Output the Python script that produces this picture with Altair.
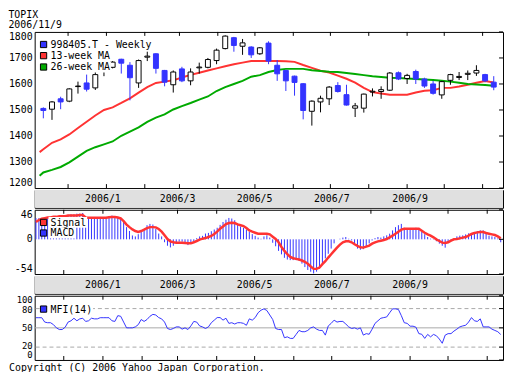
import altair as alt
import pandas as pd

FONT = "DejaVu Sans Mono"
BLUE = "#3333ff"
RED = "#ff3333"
GREEN = "#00aa00"
GRID = "#a8a8a8"
BAND = "#e0e0e0"

W = 474
H_MAIN = 158
H_BAND = 18
H_SUB = 65

title_lines = ["TOPIX", "2006/11/9"]
copyright_text = "Copyright (C) 2006 Yahoo Japan Corporation."
main_legend = ["998405.T - Weekly", "13-week MA", "26-week MA"]
macd_legend = ["Signal", "MACD"]
mfi_legend = ["MFI(14)"]

week_start = "2005-11-11"
ma_start = "2005-11-08T00:00:00"
ind_start = "2005-11-09"

candle_open = [1506, 1503, 1543, 1534, 1590, 1604, 1585, 1650, 1664, 1695,
               1672, 1604, 1703, 1716, 1652, 1597, 1658, 1612, 1662, 1664,
               1690, 1736, 1778, 1745, 1742, 1716, 1757, 1672, 1652, 1630,
               1601, 1495, 1531, 1543, 1594, 1559, 1507, 1507, 1569, 1571,
               1576, 1643, 1621, 1648, 1619, 1600, 1558, 1614, 1625, 1637,
               1642, 1636, 1607]
candle_close = [1498, 1531, 1531, 1581, 1592, 1580, 1636, 1653, 1684, 1680,
                1624, 1690, 1707, 1660, 1607, 1646, 1612, 1646, 1665, 1694,
                1730, 1784, 1748, 1758, 1712, 1739, 1688, 1639, 1612, 1606,
                1498, 1534, 1545, 1588, 1571, 1519, 1516, 1561, 1572, 1578,
                1642, 1619, 1633, 1619, 1592, 1564, 1609, 1636, 1629, 1641,
                1652, 1612, 1588]
candle_high = [1510, 1534, 1551, 1583, 1609, 1636, 1646, 1664, 1688, 1697,
               1684, 1694, 1724, 1718, 1654, 1652, 1666, 1660, 1682, 1700,
               1736, 1787, 1781, 1773, 1745, 1742, 1764, 1692, 1655, 1632,
               1603, 1537, 1555, 1592, 1607, 1597, 1527, 1563, 1583, 1591,
               1646, 1648, 1639, 1655, 1624, 1612, 1612, 1639, 1646, 1652,
               1672, 1639, 1630]
candle_low = [1468, 1462, 1503, 1530, 1563, 1571, 1577, 1630, 1660, 1640,
              1537, 1585, 1688, 1640, 1591, 1567, 1607, 1595, 1640, 1660,
              1676, 1733, 1724, 1712, 1700, 1712, 1676, 1612, 1573, 1555,
              1464, 1440, 1491, 1519, 1567, 1517, 1473, 1490, 1552, 1543,
              1573, 1615, 1600, 1600, 1585, 1559, 1543, 1597, 1615, 1615,
              1631, 1607, 1576]

ma13 = [1338, 1349, 1374, 1387, 1406, 1431, 1455, 1479, 1500, 1510,
        1527, 1545, 1567, 1588, 1604, 1609, 1614, 1625, 1635, 1643,
        1652, 1660, 1668, 1676, 1682, 1688, 1688, 1688, 1688, 1687,
        1685, 1673, 1662, 1651, 1644, 1632, 1620, 1605, 1585, 1569,
        1563, 1559, 1559, 1559, 1567, 1574, 1576, 1585, 1585, 1590,
        1597, 1605, 1611, 1606]
ma26 = [1247, 1260, 1270, 1281, 1299, 1321, 1343, 1357, 1368, 1379,
        1401, 1417, 1433, 1454, 1471, 1483, 1502, 1515, 1527, 1540,
        1552, 1573, 1588, 1600, 1612, 1628, 1634, 1646, 1654, 1658,
        1658, 1658, 1653, 1650, 1647, 1646, 1642, 1638, 1634, 1630,
        1627, 1624, 1623, 1621, 1619, 1617, 1615, 1612, 1609, 1605,
        1600, 1598, 1596, 1593]

macd_hist = [33, 33, 33, 33, 33, 33, 33, 33, 33, 33,
             33, 38, 39, 39, 40, 40, 41, 33, 33, 33,
             33, 33, 33, 33, 34, 36, 37, 36, 35, 33,
             27, 19, 13, 6, 4.5, 8, 12, 16, 22, 24,
             23, 16, 9, 4.5, -4.5, -10, -12.6, -10, -5.4, -3.6,
             -3.6, -5.4, -9, -6.3, -2.7, 1.8, 4.5, 5.4, 9, 10,
             12.6, 15.3, 18, 22.5, 27, 30.6, 33.3, 32.4, 29.7, 24.3,
             19.8, 18, 15.3, 11.7, 8.1, 5.4, 2.7, 0.9, 4.5, 6.3,
             2.7, -5.4, -10.8, -18, -23.4, -28.8, -31.5, -32.4, -32.4, -32.4,
             -33.3, -37.8, -43.2, -47.7, -50.4, -53.1, -50.4, -45.9, -37.8, -29.7,
             -22.5, -14.4, -6.3, 0, 0.9, 2.7, 3.6, 0.9, -1.8, -8.1,
             -14.4, -16.2, -15.3, -11.7, -6.3, -1.8, 1.8, 3.6, 2.7, 4.6,
             6.2, 8.8, 13.9, 19, 22, 24, 18, 16, 16, 16,
             18, 16, 12, 8, 3.6, 1, -0.5, -3, -6.7, -10,
             -13, -5.7, -2.6, 0.5, 4.6, 5.7, 6.2, 7.7, 9.3, 9.8,
             11.4, 12.9, 14, 14, 8.8, 5.7, 4.6, 3.6, 1.5, -4.6]
macd_signal = [27, 30, 32, 33, 34, 34, 35, 35, 36, 36,
               36, 37, 37, 37, 37, 38, 38, 34, 33.5, 33.5,
               33.5, 33.5, 33.5, 33.5, 33.5, 34.5, 34.6, 34.6, 34, 32.5,
               28.4, 23, 19, 15.5, 12.9, 11.4, 12.9, 15, 17.5, 19,
               19, 18.6, 16, 11.9, 6.2, 0.5, -3.1, -4.6, -5.2, -5.2,
               -5.2, -5.7, -6.2, -6.2, -4.6, -2.6, -0.5, 1, 2, 3.6,
               5.2, 8.3, 11.9, 16.5, 20, 23.7, 25.3, 25.8, 25.3, 23.2,
               22, 20.6, 17.5, 13.9, 11.9, 10.3, 8.8, 8.8, 8.8, 8.8,
               7.7, 4.1, 0.5, -4.6, -11.9, -18, -23.2, -27.3, -29.4, -30.4,
               -31.5, -33, -35, -38, -42.3, -46, -46, -43.9, -38.7, -34,
               -28.4, -23.2, -18, -12.9, -8.3, -4.6, -3.1, -3.1, -4.6, -7.7,
               -10.3, -12.4, -12.9, -11.4, -9.8, -6.7, -4.6, -3.1, -2.1, -1,
               0.5, 3.1, 5.7, 8.8, 11.9, 15, 16.5, 16.5, 16.5, 16.5,
               16.5, 16.5, 13.4, 10.3, 7.7, 5.7, 3.1, 0, -2.6, -5.2,
               -5.7, -4.6, -2.1, 0, 0.5, 1.5, 2.6, 3.6, 5.7, 8.3,
               9.8, 10.8, 11.4, 11.4, 9.8, 8.8, 7.7, 6.7, 4.6, 1.5]
mfi = [65.8, 65.8, 65.8, 59, 58, 58, 55, 50, 47.4, 47.4,
       51, 59, 61, 65, 61, 64, 65, 60, 61, 65,
       64, 64, 65.8, 65.8, 65.8, 65.8, 61, 60, 69, 68,
       59, 50, 50, 50, 51.5, 55, 63, 60, 63, 68,
       71, 70, 66, 64, 59, 49, 47.4, 49, 51.5, 51.5,
       48, 50, 47.4, 53, 60, 59, 53, 51.5, 49, 51.5,
       58, 62, 66, 66, 62, 65, 57, 58, 56, 58,
       58, 57, 54, 64, 62, 66, 73.5, 77.5, 79.6, 77,
       70, 63, 49, 47.4, 47.4, 34.6, 36, 33.6, 33.6, 39.8,
       46, 44, 44, 46, 50, 51.5, 48, 46, 46, 38.7,
       53, 57, 62, 59, 60, 60, 56, 51.5, 49, 50,
       48, 50, 38.7, 41, 40, 48, 57, 61, 65, 66,
       67, 73.5, 79.6, 79.6, 78.6, 69, 58, 57, 52.6, 52.6,
       51, 41, 40, 33.6, 39.8, 36, 39.8, 37.7, 32.6, 26,
       38.7, 41, 41, 45, 48, 51.5, 53, 54, 59, 66,
       61, 60, 64, 51.5, 51.5, 51.5, 48, 46, 44, 39.7]

month_label_text = ["2006/1", "2006/3", "2006/5", "2006/7", "2006/9"]
month_label_dates = ["2006-01-01T00:00:00", "2006-03-01T00:00:00", "2006-05-01T00:00:00",
                     "2006-07-01T00:00:00", "2006-09-01T00:00:00"]
grid_months = [(2006, 1), (2006, 3), (2006, 5), (2006, 7), (2006, 9), (2006, 11)]
tick_month_dates = ["2005-12-01T00:00:00", "2006-01-01T00:00:00", "2006-02-01T00:00:00",
                    "2006-03-01T00:00:00", "2006-04-01T00:00:00", "2006-05-01T00:00:00",
                    "2006-06-01T00:00:00", "2006-07-01T00:00:00", "2006-08-01T00:00:00",
                    "2006-09-01T00:00:00", "2006-10-01T00:00:00", "2006-11-01T00:00:00"]
main_ticks = [1200, 1300, 1400, 1500, 1600, 1700, 1800]
macd_ticks = [46, 0, -54]
mfi_ticks = [100, 80, 50, 20, 0]
mfi_dashed = [20, 80]
mfi_solid = [50]

FMT = "%Y-%m-%dT%H:%M:%S"
candle_dates = [(pd.Timestamp(week_start) + pd.Timedelta(days=7 * k)).strftime(FMT)
                for k in range(len(candle_open))]
candles = pd.DataFrame({"date": candle_dates, "open": candle_open, "close": candle_close,
                        "high": candle_high, "low": candle_low})
ma_df = pd.DataFrame({"date": [ma_start] + candle_dates, "ma13": ma13, "ma26": ma26})
ind_dates = [(pd.Timestamp(ind_start) + pd.Timedelta(minutes=3330 * i)).strftime(FMT)
             for i in range(len(macd_hist))]
ind_df = pd.DataFrame({"date": ind_dates, "hist": macd_hist, "signal": macd_signal, "mfi": mfi})
months_df = pd.DataFrame({"date": tick_month_dates})

xscale = alt.Scale(domain=[alt.DateTime(year=2005, month=11, date=8),
                           alt.DateTime(year=2006, month=11, date=13, hours=12)])
grid_axis = alt.Axis(values=[alt.DateTime(year=y, month=m, date=1) for y, m in grid_months],
                     grid=True, gridColor=GRID, gridWidth=1, labels=False, ticks=False,
                     domain=False, title=None)


def xenc(axis=None):
    return alt.X("date:T", scale=xscale, axis=axis, title=None)


def ygrid_axis(values):
    return alt.Axis(values=values, grid=True, gridColor=GRID, gridWidth=1, labels=False,
                    ticks=False, domain=False, title=None)


def ylabels(scale, values, size=10, shifts=None):
    shifts = shifts or {}
    top_v, bot_v = max(values), min(values)
    layers = []
    for v in values:
        base = "top" if v == top_v else ("bottom" if v == bot_v else "middle")
        df = pd.DataFrame({"v": [v], "t": [str(v)]})
        layers.append(alt.Chart(df).mark_text(align="right", baseline=base, font=FONT,
                                              fontSize=size, color="black",
                                              dy=shifts.get(v, 0)).encode(
            x=alt.value(-2), y=alt.Y("v:Q", scale=scale, axis=None), text="t:N"))
    return layers


def edge_ticks(height, yscale, values):
    top = alt.Chart(months_df).mark_rule(color="black", strokeWidth=1).encode(
        x=xenc(), y=alt.value(0), y2=alt.value(4))
    bot = alt.Chart(months_df).mark_rule(color="black", strokeWidth=1).encode(
        x=xenc(), y=alt.value(height - 4), y2=alt.value(height))
    right = alt.Chart(pd.DataFrame({"v": values})).mark_rule(color="black", strokeWidth=1).encode(
        y=alt.Y("v:Q", scale=yscale, axis=None), x=alt.value(W - 4), x2=alt.value(W))
    return [top, bot, right]


def legend(labels, colors, rows):
    layers = []
    for lab, col, ry in zip(labels, colors, rows):
        d = pd.DataFrame({"label": [lab]})
        layers.append(alt.Chart(d).mark_rect(color="white").encode(
            x=alt.value(14), x2=alt.value(17 + 6.02 * len(lab)),
            y=alt.value(ry - 5.5), y2=alt.value(ry + 5.5)))
        layers.append(alt.Chart(d).mark_square(size=40, fill=col, stroke="black",
                                               strokeWidth=1, opacity=1).encode(
            x=alt.value(9), y=alt.value(ry)))
        layers.append(alt.Chart(d).mark_text(align="left", baseline="middle", font=FONT,
                                             fontSize=10, color="black").encode(
            x=alt.value(16), y=alt.value(ry + 0.5), text="label:N"))
    return layers


# ---------- main panel ----------
ys_main = alt.Scale(domain=[1200, 1800], nice=False, zero=False)
down = "datum.close < datum.open"
l_ma13 = alt.Chart(ma_df).mark_line(color=RED, strokeWidth=2, clip=True).encode(
    x=xenc(grid_axis), y=alt.Y("ma13:Q", scale=ys_main, axis=ygrid_axis(main_ticks)))
l_ma26 = alt.Chart(ma_df).mark_line(color=GREEN, strokeWidth=2, clip=True).encode(
    x=xenc(), y=alt.Y("ma26:Q", scale=ys_main, axis=None))
wick = alt.Chart(candles).mark_rule(strokeWidth=1, clip=True).encode(
    x=xenc(), y=alt.Y("low:Q", scale=ys_main, axis=None), y2="high:Q",
    color=alt.condition(down, alt.value(BLUE), alt.value("black")))
body = alt.Chart(candles).mark_bar(size=5, strokeWidth=1, clip=True).encode(
    x=xenc(), y=alt.Y("open:Q", scale=ys_main, axis=None), y2="close:Q",
    fill=alt.condition(down, alt.value(BLUE), alt.value("white")),
    stroke=alt.condition(down, alt.value(BLUE), alt.value("black")))
main = alt.layer(l_ma13, l_ma26, wick, body,
                 *edge_ticks(H_MAIN, ys_main, main_ticks),
                 *ylabels(ys_main, main_ticks),
                 *legend(main_legend, [BLUE, RED, GREEN], [12.7, 24, 35.5])
                 ).properties(width=W, height=H_MAIN)


# ---------- bands ----------
def band():
    bg = alt.Chart(pd.DataFrame({"b": [0]})).mark_rect(color=BAND).encode(
        x=alt.value(0), x2=alt.value(W), y=alt.value(0), y2=alt.value(H_BAND))
    txt = alt.Chart(pd.DataFrame({"date": month_label_dates, "label": month_label_text})).mark_text(
        font=FONT, fontSize=10, baseline="middle", color="black").encode(
        x=xenc(), y=alt.value(H_BAND / 2 + 0.5), text="label:N")
    return alt.layer(bg, txt).properties(width=W, height=H_BAND)


# ---------- MACD ----------
ys_macd = alt.Scale(domain=[-54, 46], nice=False, zero=False)
bars = alt.Chart(ind_df).mark_rule(color=BLUE, strokeWidth=1, clip=True).encode(
    x=xenc(grid_axis), y=alt.Y("hist:Q", scale=ys_macd, axis=None), y2=alt.datum(0))
sig = alt.Chart(ind_df).mark_line(color=RED, strokeWidth=2.5, clip=True).encode(
    x=xenc(), y=alt.Y("signal:Q", scale=ys_macd, axis=None))
macd = alt.layer(bars, sig, *edge_ticks(H_SUB, ys_macd, macd_ticks),
                 *ylabels(ys_macd, macd_ticks),
                 *legend(macd_legend, [RED, BLUE], [12.8, 23.5])
                 ).properties(width=W, height=H_SUB)

# ---------- MFI ----------
ys_mfi = alt.Scale(domain=[0, 100], nice=False, zero=False)
dashed = alt.Chart(pd.DataFrame({"v": mfi_dashed})).mark_rule(
    color=GRID, strokeWidth=1, strokeDash=[4, 3]).encode(
    y=alt.Y("v:Q", scale=ys_mfi, axis=None))
solid = alt.Chart(pd.DataFrame({"v": mfi_solid})).mark_rule(color=GRID, strokeWidth=1).encode(
    y=alt.Y("v:Q", scale=ys_mfi, axis=None))
mfi_line = alt.Chart(ind_df).mark_line(color=BLUE, strokeWidth=1, clip=True).encode(
    x=xenc(grid_axis), y=alt.Y("mfi:Q", scale=ys_mfi, axis=None))
copy_txt = alt.Chart(pd.DataFrame({"t": [copyright_text]})).mark_text(
    align="left", baseline="alphabetic", font=FONT, fontSize=10, color="black").encode(
    x=alt.value(-26), y=alt.value(H_SUB + 11.5), text="t:N")
mfi_chart = alt.layer(dashed, solid, mfi_line, *edge_ticks(H_SUB, ys_mfi, mfi_ticks),
                      *ylabels(ys_mfi, mfi_ticks, size=9, shifts={80: 1.5, 20: -1.5}),
                      *legend(mfi_legend, [BLUE], [13.5]), copy_txt
                      ).properties(width=W, height=H_SUB)

chart = alt.vconcat(main, band(), macd, band(), mfi_chart, spacing=0).properties(
    title=alt.TitleParams(title_lines, anchor="start", font=FONT, fontSize=10,
                          fontWeight="normal", color="black", lineHeight=10, offset=1),
    padding=0, background="white"
).configure_view(stroke="black", strokeWidth=1)

chart.save("out.html", embed_options={"renderer": "svg", "actions": False})
